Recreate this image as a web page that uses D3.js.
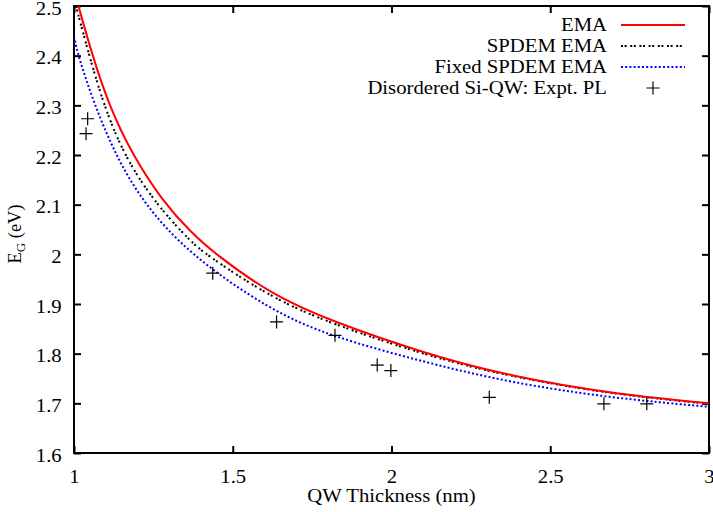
<!DOCTYPE html>
<html>
<head>
<meta charset="utf-8">
<script src="https://cdn.jsdelivr.net/npm/d3@7"></script>
<style>
  body { margin: 0; background: #fff; }
  text { font-family: "Liberation Serif", "Times New Roman", Times, serif; fill: #000; }
</style>
</head>
<body>
<svg id="chart" width="713" height="512"></svg>
<script>
// EMA (solid red)
const emaThickness = [1.014, 1.058, 1.110, 1.184, 1.278, 1.367, 1.446, 1.617, 1.806, 2.121, 2.373, 2.688, 3.0];
const emaGap = [2.5, 2.4, 2.3, 2.2, 2.108, 2.045, 2.0, 1.921, 1.866, 1.797, 1.755, 1.720, 1.700];

// SPDEM EMA (black dotted)
const spdemThickness = [1.006, 1.048, 1.094, 1.157, 1.252, 1.365, 1.415, 1.617, 1.806, 2.121, 2.373, 2.688, 3.0];
const spdemGap = [2.5, 2.4, 2.3, 2.2, 2.106, 2.027, 2.0, 1.914, 1.861, 1.794, 1.754, 1.719, 1.699];

// Fixed SPDEM EMA (blue dotted)
const fixedThickness = [1.0, 1.013, 1.065, 1.131, 1.215, 1.362, 1.617, 1.806, 2.121, 2.373, 2.688, 3.0];
const fixedGap = [2.438, 2.4, 2.3, 2.2, 2.106, 2.0, 1.888, 1.835, 1.780, 1.742, 1.711, 1.693];

// Disordered Si-QW: Expt. PL (plus markers)
const plThickness = [1.038, 1.043, 1.437, 1.638, 1.822, 1.955, 1.998, 2.308, 2.669, 2.804];
const plGap = [2.243, 2.273, 1.962, 1.864, 1.837, 1.777, 1.766, 1.712, 1.699, 1.699];

const xTicks = [1, 1.5, 2, 2.5, 3];
const yTicks = [1.6, 1.7, 1.8, 1.9, 2, 2.1, 2.2, 2.3, 2.4, 2.5];
const legendLabels = ["EMA", "SPDEM EMA", "Fixed SPDEM EMA", "Disordered Si-QW: Expt. PL"];

const width = 713, height = 512;
const margins = { top: 6, right: 4, bottom: 59, left: 74 };
const plotWidth = width - margins.left - margins.right;
const plotHeight = height - margins.top - margins.bottom;
const stretch = "scale(1.12,1)"; // text in the reference is a bit wide
const fontSize = "18.5px";

const svg = d3.select("#chart");
const g = svg.append("g").attr("transform", "translate(" + margins.left + "," + margins.top + ")");

const x = d3.scaleLinear().domain([1, 3]).range([0, plotWidth]);
const y = d3.scaleLinear().domain([1.6, 2.5]).range([plotHeight, 0]);

// clip curves to the plot box
g.append("clipPath").attr("id", "clip")
  .append("rect").attr("width", plotWidth).attr("height", plotHeight);

// axes, ticks point inward like gnuplot
g.append("g")
  .attr("transform", "translate(0," + plotHeight + ")")
  .call(d3.axisBottom(x).tickValues(xTicks).tickFormat(d3.format("")).tickSize(-7).tickSizeOuter(0).tickPadding(17));
g.append("g")
  .attr("class", "yaxis")
  .call(d3.axisLeft(y).tickValues(yTicks).tickFormat(d3.format("")).tickSize(-7).tickSizeOuter(0).tickPadding(11));
g.append("g")
  .call(d3.axisTop(x).tickValues(xTicks).tickFormat("").tickSize(-7).tickSizeOuter(0));
g.append("g")
  .attr("transform", "translate(" + plotWidth + ",0)")
  .call(d3.axisRight(y).tickValues(yTicks).tickFormat("").tickSize(-7).tickSizeOuter(0));

g.selectAll(".domain").remove();
g.selectAll(".tick line").attr("stroke", "#000").attr("stroke-width", 2);
g.selectAll(".tick text")
  .attr("font-size", fontSize)
  .attr("font-family", "Liberation Serif")
  .attr("fill", "#000")
  .attr("transform", stretch);
g.selectAll(".yaxis .tick text").attr("dy", "0.45em");

// frame
g.append("rect")
  .attr("width", plotWidth).attr("height", plotHeight)
  .attr("fill", "none").attr("stroke", "#000").attr("stroke-width", 2);

// curves
const line = d3.line().x(d => x(d[0])).y(d => y(d[1])).curve(d3.curveBasis);
const curves = g.append("g").attr("clip-path", "url(#clip)");

const seriesList = [
  { xs: fixedThickness, ys: fixedGap, color: "#0000ff", dash: "2,2.2" },
  { xs: spdemThickness, ys: spdemGap, color: "#000", dash: "2,1.6,2,3.6" },
  { xs: emaThickness, ys: emaGap, color: "#ff0000", dash: null }
];
seriesList.forEach(s => {
  curves.append("path")
    .datum(d3.zip(s.xs, s.ys))
    .attr("fill", "none")
    .attr("stroke", s.color)
    .attr("stroke-width", 2)
    .attr("stroke-dasharray", s.dash)
    .attr("d", line);
});

// experimental points
const plusPath = (cx, cy, r) => "M" + (cx - r) + "," + cy + "H" + (cx + r) + "M" + cx + "," + (cy - r) + "V" + (cy + r);
g.append("g")
  .selectAll("path")
  .data(d3.zip(plThickness, plGap))
  .enter()
  .append("path")
  .attr("d", d => plusPath(x(d[0]), y(d[1]), 6.5))
  .attr("stroke", "#000")
  .attr("stroke-width", 1.2)
  .attr("fill", "none");

// legend
const legendRows = [
  { color: "#ff0000", dash: null },
  { color: "#000", dash: "2,1.6,2,3.6" },
  { color: "#0000ff", dash: "2,2.2" },
  { marker: true }
];
const legend = svg.append("g");
legendRows.forEach((row, i) => {
  const cy = 25 + i * 21;
  legend.append("text")
    .attr("transform", "translate(607," + (cy + 6) + ") " + stretch)
    .attr("text-anchor", "end")
    .attr("font-size", fontSize)
    .text(legendLabels[i]);
  if (row.marker) {
    legend.append("path")
      .attr("d", plusPath(653, cy, 6.5))
      .attr("stroke", "#000").attr("stroke-width", 1.2).attr("fill", "none");
  } else {
    legend.append("line")
      .attr("x1", 621).attr("x2", 685).attr("y1", cy).attr("y2", cy)
      .attr("stroke", row.color).attr("stroke-width", 2)
      .attr("stroke-dasharray", row.dash);
  }
});

// axis titles
svg.append("text")
  .attr("transform", "translate(" + (margins.left + plotWidth / 2) + ",502) " + stretch)
  .attr("text-anchor", "middle")
  .attr("font-size", fontSize)
  .text("QW Thickness (nm)");

const yTitle = svg.append("text")
  .attr("transform", "translate(21,234) rotate(-90)")
  .attr("text-anchor", "middle")
  .attr("font-size", fontSize);
yTitle.append("tspan").text("E");
yTitle.append("tspan").attr("font-size", "13px").attr("dy", 4).text("G");
yTitle.append("tspan").attr("dy", -4).text(" (eV)");
</script>
</body>
</html>
